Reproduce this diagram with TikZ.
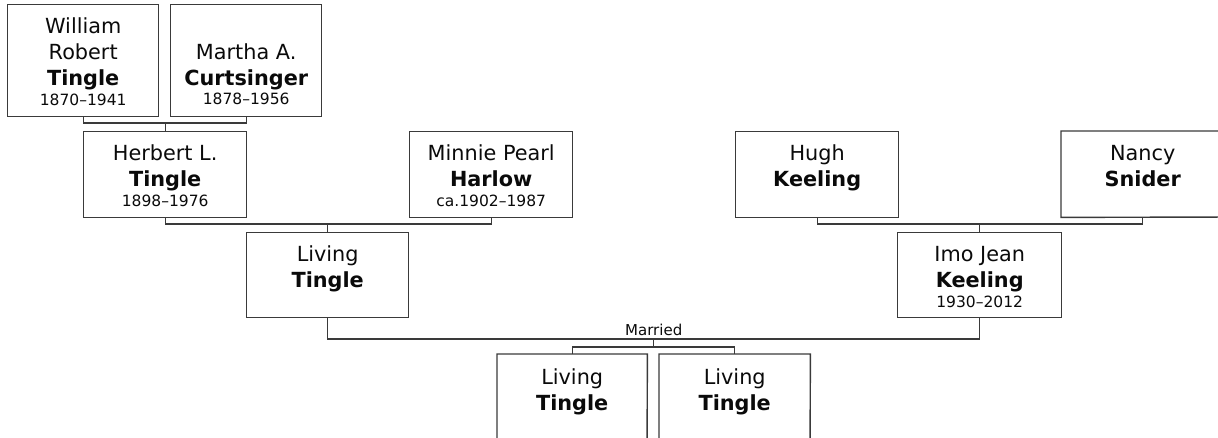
\documentclass[tikz,border=0pt]{standalone}
\usepackage{fontspec}
\setmainfont{DejaVu Sans}
\usetikzlibrary{calc}
\definecolor{lc}{HTML}{3A3A3A}
\definecolor{tc}{HTML}{0A0A0A}
\newcommand\pbody[4]{\parbox[t][#2][t]{#1}{\centering\fontsize{20.8pt}{26pt}\selectfont\rule{0pt}{#3}#4\par}}
\newcommand\dates[1]{\\[-6.5pt]{\fontsize{15.5pt}{20pt}\selectfont #1}}
\begin{document}
\begin{tikzpicture}[x=1pt,y=-1pt,
  pbox/.style={draw=lc, line width=1.4pt, inner sep=0pt, anchor=north west, text=tc},
  openbox/.style={inner sep=0pt, anchor=north west, text=tc},
  link/.style={draw=lc, line width=1.4pt},
  smalllabel/.style={text=tc, font=\fontsize{15pt}{18pt}\selectfont, anchor=base, inner sep=0pt}]
\useasboundingbox (0,0) rectangle (1218,438);
% generation 1
\node[pbox] (W) at (7,4) {\pbody{151pt}{112pt}{29pt}{William\\Robert\\\textbf{Tingle}\dates{1870–1941}}};
\node[pbox] (M) at (170,4) {\pbody{151pt}{112pt}{54.5pt}{Martha A.\\\textbf{Curtsinger}\dates{1878–1956}}};
% generation 2
\node[pbox] (H) at (83,131) {\pbody{163pt}{86pt}{29pt}{Herbert L.\\\textbf{Tingle}\dates{1898–1976}}};
\node[pbox] (P) at (409,131) {\pbody{163pt}{86pt}{29pt}{Minnie Pearl\\\textbf{Harlow}\dates{ca.1902–1987}}};
\node[pbox] (HK) at (735,131) {\pbody{163pt}{86pt}{29pt}{Hugh\\\textbf{Keeling}}};
\node[openbox] (NS) at (1061,131) {\pbody{163pt}{86pt}{29pt}{Nancy\\\textbf{Snider}}};
\coordinate (nsr1) at (1240,131);
\coordinate (nsr2) at (1240,217);
\draw[link] (nsr1) -- (NS.north west) -- (NS.south west) -- (nsr2);
% generation 3
\node[pbox] (LT) at (246,232) {\pbody{162pt}{85pt}{29pt}{Living\\\textbf{Tingle}}};
\node[pbox] (IJ) at (897,232) {\pbody{164pt}{85pt}{29pt}{Imo Jean\\\textbf{Keeling}\dates{1930–2012}}};
% generation 4
\coordinate (cb1) at (497,460);
\coordinate (cb2) at (647,460);
\coordinate (cb3) at (659,460);
\coordinate (cb4) at (810,460);
\node[openbox] (C1) at (497,354) {\pbody{150pt}{84pt}{30pt}{Living\\\textbf{Tingle}}};
\node[openbox] (C2) at (659,354) {\pbody{151pt}{84pt}{30pt}{Living\\\textbf{Tingle}}};
\draw[link] (cb1) -- (C1.north west) -- (C1.north east) -- (cb2);
\draw[link] (cb3) -- (C2.north west) -- (C2.north east) -- (cb4);
% connector levels
\coordinate (y1) at (0,123);
\coordinate (y2) at (0,224);
\coordinate (y3) at (0,339);
\coordinate (y4) at (0,347);
\draw[link] (W.south) -- (W.south |- y1) -| (M.south);
\draw[link] (H.north) -- (H.north |- y1);
\draw[link] (H.south) -- (H.south |- y2) -| (P.south);
\draw[link] (LT.north) -- (LT.north |- y2);
\draw[link] (HK.south) -- (HK.south |- y2) -| (NS.south);
\draw[link] (IJ.north) -- (IJ.north |- y2);
\draw[link] (LT.south) -- (LT.south |- y3) -| (IJ.south);
\coordinate (mar) at ($(LT.south |- y3)!0.5!(IJ.south |- y3)$);
\node[smalllabel] (married) at ([yshift=4pt]mar) {Married};
\draw[link] (mar) -- (mar |- y4);
\draw[link] (C1.north) -- (C1.north |- y4) -| (C2.north);
\end{tikzpicture}
\end{document}
